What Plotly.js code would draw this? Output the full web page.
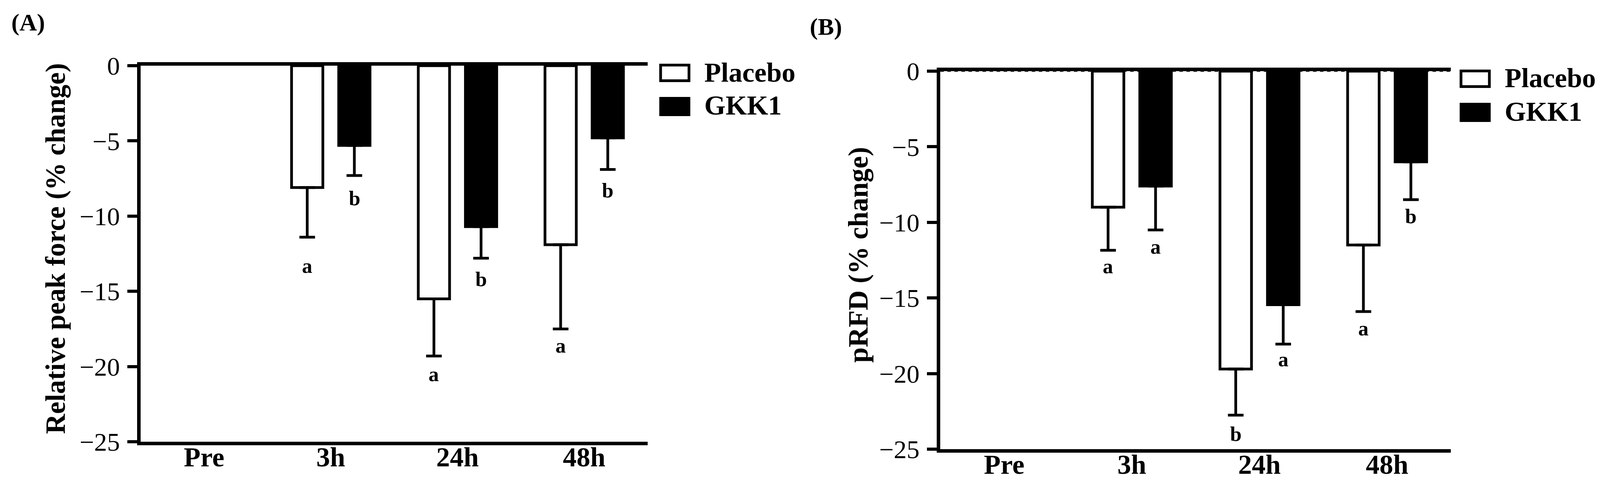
<!DOCTYPE html>
<html>
<head>
<meta charset="utf-8">
<script src="https://cdn.plot.ly/plotly-3.0.1.min.js"></script>
<style>
  html, body { margin: 0; padding: 0; background: #fff; overflow: hidden; }
  #chart { width: 100vw; height: 100vh; }
</style>
</head>
<body>
<div id="chart"></div>
<script>
// ---- Data ----
const categories = ['Pre', '3h', '24h', '48h'];
const yTicks = [0, -5, -10, -15, -20, -25];
const seriesNames = ['Placebo', 'GKK1'];

// (A) Relative peak force (% change)
const peakPlacebo = [0, -8.1, -15.5, -11.9];
const peakPlaceboErr = [0, 3.3, 3.8, 5.6];
const peakGkk1 = [0, -5.3, -10.7, -4.8];
const peakGkk1Err = [0, 2.0, 2.1, 2.1];
const peakPlaceboSig = ['', 'a', 'a', 'a'];
const peakGkk1Sig = ['', 'b', 'b', 'b'];
const peakPlaceboSigY = [null, -13.3, -20.5, -18.6];
const peakGkk1SigY = [null, -8.8, -14.2, -8.3];

// (B) pRFD (% change)
const rfdPlacebo = [0, -9.0, -19.7, -11.5];
const rfdPlaceboErr = [0, 2.85, 3.05, 4.4];
const rfdGkk1 = [0, -7.6, -15.45, -6.0];
const rfdGkk1Err = [0, 2.9, 2.6, 2.5];
const rfdPlaceboSig = ['', 'a', 'b', 'a'];
const rfdGkk1Sig = ['', 'a', 'a', 'b'];
const rfdPlaceboSigY = [null, -12.9, -24.0, -17.0];
const rfdGkk1SigY = [null, -11.6, -19.05, -9.6];

// ---- Layout helpers ----
// positions are worked out on a 4230 x 1233 canvas and kept as fractions
const W = 4230, H = 1233;
const FONT = 'Liberation Serif, Times New Roman, serif';
const px = v => v / W;
const py = v => 1 - v / H;

const BAR_W = 0.247;
const SHIFT = 0.186;

// Pre is the 0 baseline: nothing to draw there
const skipZero = (vals, arr) => arr.map((e, i) => (vals[i] === 0 ? null : e));

function barTrace(name, values, errs, fill, xa, ya, side) {
  return {
    type: 'bar',
    name: name,
    x: categories,
    y: skipZero(values, values),
    xaxis: xa,
    yaxis: ya,
    width: BAR_W,
    offset: side * SHIFT - BAR_W / 2,
    marker: { color: fill, line: { color: '#000', width: 7 } },
    error_y: {
      type: 'data',
      symmetric: false,
      array: values.map(() => 0),
      arrayminus: errs,
      color: '#000',
      thickness: 7,
      width: 20
    },
    showlegend: false,
    hoverinfo: 'skip'
  };
}

function sigLabels(labels, ys, xa, ya, side) {
  const out = [];
  labels.forEach((t, i) => {
    if (!t) return;
    out.push({
      xref: xa, yref: ya,
      x: i + side * SHIFT,
      y: ys[i],
      xanchor: 'center', yanchor: 'middle',
      text: t,
      showarrow: false,
      font: { family: FONT, size: 53, weight: 'bold', color: '#000' }
    });
  });
  return out;
}

function xAxis(dom, anchor) {
  return {
    domain: dom, anchor: anchor, type: 'category', range: [-0.5, 3.5],
    showline: true, linecolor: '#000', linewidth: 9, mirror: true,
    ticks: '', showgrid: false, zeroline: false, ticklabelstandoff: -30,
    tickfont: { family: FONT, size: 70, weight: 'bold', color: '#000' },
    automargin: false, fixedrange: true
  };
}

function yAxis(dom, anchor) {
  return {
    domain: dom, anchor: anchor, range: [-25, 0],
    tickvals: yTicks, ticks: 'outside', ticklen: 25, tickwidth: 8, tickcolor: '#000',
    showline: true, linecolor: '#000', linewidth: 9,
    showgrid: false, zeroline: false, ticklabelstandoff: 6,
    tickfont: { family: FONT, size: 66, color: '#000' },
    automargin: false, fixedrange: true
  };
}

function legendItems(left, top) {
  return {
    shapes: [
      { type: 'rect', xref: 'paper', yref: 'paper',
        x0: px(left + 3.5), x1: px(left + 82 - 3.5), y0: py(top + 3.5), y1: py(top + 47 - 3.5),
        line: { color: '#000', width: 7 }, fillcolor: '#fff' },
      { type: 'rect', xref: 'paper', yref: 'paper',
        x0: px(left), x1: px(left + 82), y0: py(top + 85), y1: py(top + 134),
        line: { width: 0 }, fillcolor: '#000' }
    ],
    annotations: seriesNames.map((n, i) => ({
      xref: 'paper', yref: 'paper',
      x: px(left + 117), y: py(top + 22 + i * 85),
      xanchor: 'left', yanchor: 'middle',
      text: n, showarrow: false,
      font: { family: FONT, size: 70, weight: 'bold', color: '#000' }
    }))
  };
}

// ---- Traces ----
const traces = [
  barTrace(seriesNames[0], peakPlacebo, peakPlaceboErr, '#fff', 'x', 'y', -1),
  barTrace(seriesNames[1], peakGkk1, peakGkk1Err, '#000', 'x', 'y', 1),
  barTrace(seriesNames[0], rfdPlacebo, rfdPlaceboErr, '#fff', 'x2', 'y2', -1),
  barTrace(seriesNames[1], rfdGkk1, rfdGkk1Err, '#000', 'x2', 'y2', 1)
];

const legA = legendItems(1743, 163);
const legB = legendItems(3859, 178);

const annotations = [
  { xref: 'paper', yref: 'paper', x: px(74), y: py(58), xanchor: 'center', yanchor: 'middle',
    text: '(A)', showarrow: false,
    font: { family: FONT, size: 62, weight: 'bold', color: '#000' } },
  { xref: 'paper', yref: 'paper', x: px(2184), y: py(68), xanchor: 'center', yanchor: 'middle',
    text: '(B)', showarrow: false,
    font: { family: FONT, size: 62, weight: 'bold', color: '#000' } },
  { xref: 'paper', yref: 'paper', x: px(147), y: py(636), xanchor: 'center', yanchor: 'middle',
    textangle: -90, text: 'Relative peak force (% change)', showarrow: false,
    font: { family: FONT, size: 71, weight: 'bold', color: '#000' } },
  { xref: 'paper', yref: 'paper', x: px(2270), y: py(652), xanchor: 'center', yanchor: 'middle',
    textangle: -90, text: 'pRFD (% change)', showarrow: false,
    font: { family: FONT, size: 71, weight: 'bold', color: '#000' } },
  ...sigLabels(peakPlaceboSig, peakPlaceboSigY, 'x', 'y', -1),
  ...sigLabels(peakGkk1Sig, peakGkk1SigY, 'x', 'y', 1),
  ...sigLabels(rfdPlaceboSig, rfdPlaceboSigY, 'x2', 'y2', -1),
  ...sigLabels(rfdGkk1Sig, rfdGkk1SigY, 'x2', 'y2', 1),
  ...legA.annotations,
  ...legB.annotations
];

const layout = {
  width: window.innerWidth || W,
  height: window.innerHeight || H,
  margin: { l: 0, r: 0, t: 0, b: 0 },
  paper_bgcolor: '#fff', plot_bgcolor: '#fff',
  barmode: 'overlay',
  showlegend: false,
  font: { family: FONT, color: '#000' },
  xaxis: xAxis([px(372), px(1712)], 'y'),
  yaxis: yAxis([py(1130), py(168)], 'x'),
  xaxis2: xAxis([px(2486), px(3836)], 'y2'),
  yaxis2: yAxis([py(1149), py(182)], 'x2'),
  shapes: [
    ...legA.shapes,
    ...legB.shapes,
    // dashed zero line of panel B
    { type: 'line', xref: 'x2 domain', yref: 'y2', x0: 0, x1: 1, y0: 0, y1: 0,
      line: { color: '#000', width: 3, dash: 'dash' } }
  ],
  annotations: annotations
};

Plotly.newPlot('chart', traces, layout, { displayModeBar: false, staticPlot: true });
</script>
</body>
</html>
